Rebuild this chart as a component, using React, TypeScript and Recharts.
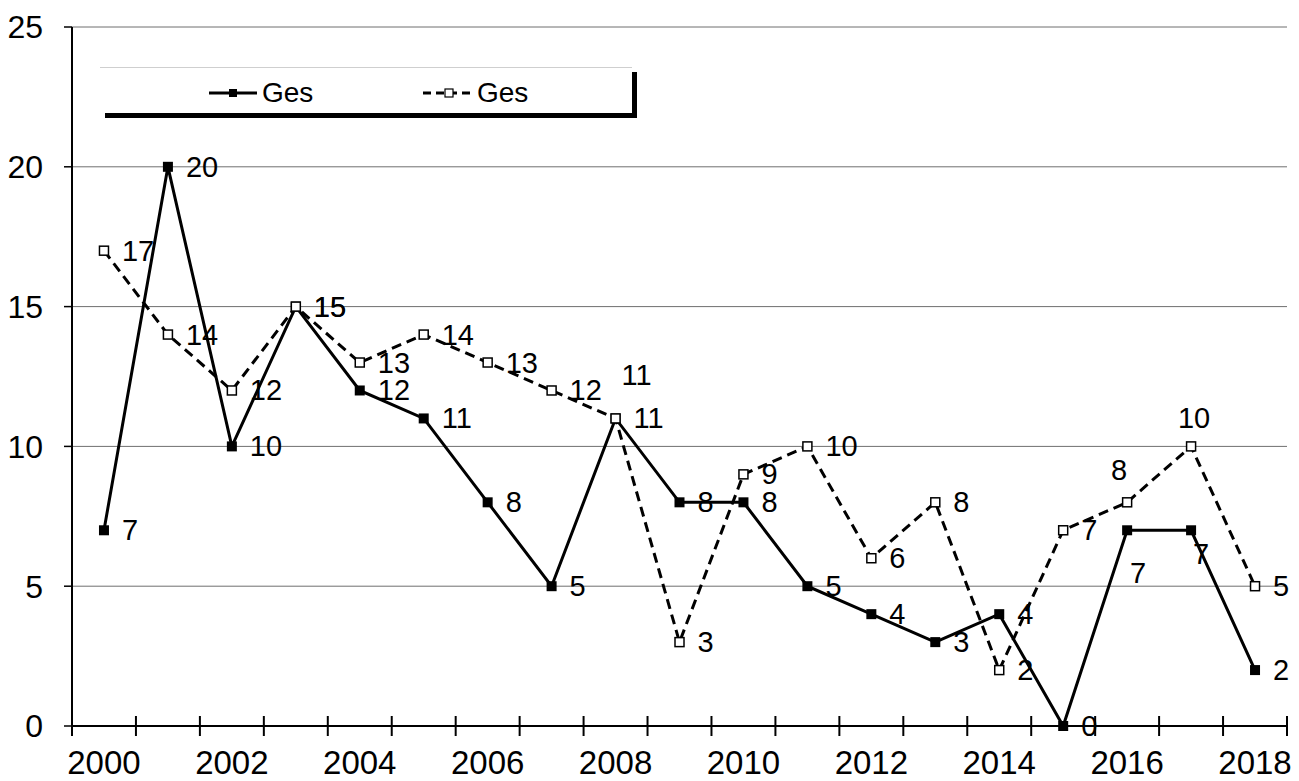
import { CartesianGrid, LabelList, Legend, Line, LineChart, XAxis, YAxis } from "recharts";

const years = [
  2000, 2001, 2002, 2003, 2004, 2005, 2006, 2007, 2008, 2009, 2010, 2011, 2012, 2013, 2014, 2015,
  2016, 2017, 2018
];
const gesSolid = [7, 20, 10, 15, 12, 11, 8, 5, 11, 8, 8, 5, 4, 3, 4, 0, 7, 7, 2];
const gesDashed = [17, 14, 12, 15, 13, 14, 13, 12, 11, 3, 9, 10, 6, 8, 2, 7, 8, 10, 5];
const yTicks = [0, 5, 10, 15, 20, 25];

const data = years.map((year, i) => ({ year, solid: gesSolid[i], dashed: gesDashed[i] }));

const W = 1299;
const H = 781;
const M = { top: 27, right: 12, left: 0, bottom: 0 };
const Y_AXIS_W = 72;
const STEP = (W - M.right - Y_AXIS_W) / years.length;
const FONT = "'Liberation Sans', Arial, sans-serif";

// labels Excel moved by hand: [dx from point centre, dy]
const solidNudge: Record<number, [number, number]> = { 2016: [11, 43], 2017: [10, 24] };
const dashedNudge: Record<number, [number, number]> = { 2008: [21, -43], 2016: [-8, -32], 2017: [3, -28] };

function makeLabel(nudge: Record<number, [number, number]>) {
  return (props: any) => {
    const { x, y, value, index } = props;
    const year = years[index];
    const n = nudge[year];
    if (n) {
      return (
        <text x={x + n[0]} y={y + n[1]} textAnchor="middle" dominantBaseline="central" fontSize={29} fontFamily={FONT} fill="#000">
          {value}
        </text>
      );
    }
    return (
      <text x={x + 18} y={y} dominantBaseline="central" fontSize={29} fontFamily={FONT} fill="#000">
        {value}
      </text>
    );
  };
}

function squareDot(filled: boolean) {
  return (props: any) => {
    const { cx, cy, index } = props;
    const s = filled ? 10 : 9;
    return (
      <rect
        key={index}
        x={cx - s / 2}
        y={cy - s / 2}
        width={s}
        height={s}
        fill={filled ? "#000" : "#fff"}
        stroke="#000"
        strokeWidth={filled ? 0 : 1.5}
      />
    );
  };
}

function YearTick(props: any) {
  const { x, y, payload } = props;
  const half = STEP / 2;
  const last = payload.value === years[years.length - 1];
  return (
    <g>
      <line x1={x - half} x2={x - half} y1={y - 10} y2={y + 10} stroke="#000" strokeWidth={2} />
      {last && <line x1={x + half} x2={x + half} y1={y - 10} y2={y + 10} stroke="#000" strokeWidth={2} />}
      {payload.value % 2 === 0 && (
        <text x={x} y={y + 48} textAnchor="middle" fontSize={33} fontFamily={FONT} fill="#000">
          {payload.value}
        </text>
      )}
    </g>
  );
}

function LegendBox() {
  const item = (left: number, dashed: boolean, iconW: number) => (
    <div style={{ position: "absolute", left, top: 0, height: 46, display: "flex", alignItems: "center", paddingTop: 2 }}>
      <svg width={iconW} height={20}>
        <line x1={0} x2={iconW} y1={10} y2={10} stroke="#000" strokeWidth={3} strokeDasharray={dashed ? "8 5" : undefined} />
        <rect x={iconW / 2 - 4} y={6} width={8} height={8} fill={dashed ? "#fff" : "#000"} stroke="#000" strokeWidth={dashed ? 1.2 : 0} />
      </svg>
      <span style={{ fontSize: 28, fontFamily: FONT, color: "#000", marginLeft: dashed ? 2 : 5 }}>Ges</span>
    </div>
  );
  return (
    <div
      style={{
        position: "relative",
        width: 532,
        height: 46,
        background: "#fff",
        borderTop: "1px solid #cfcfcf",
        boxShadow: "5px 5px 0 #000",
        boxSizing: "border-box"
      }}
    >
      {item(109, false, 48)}
      {item(323, true, 52)}
    </div>
  );
}

export default function App() {
  return (
    <div style={{ position: "absolute", left: 0, top: 0, background: "#fff" }}>
      <LineChart width={W} height={H} data={data} margin={M}>
        <CartesianGrid vertical={false} stroke="#6f6f6f" strokeWidth={1} />
        <XAxis
          dataKey="year"
          type="number"
          domain={[1999.5, 2018.5]}
          ticks={years}
          interval={0}
          tickLine={false}
          tickSize={0}
          tickMargin={0}
          height={55}
          axisLine={{ stroke: "#000", strokeWidth: 2 }}
          tick={<YearTick />}
        />
        <YAxis
          type="number"
          domain={[0, 25]}
          ticks={yTicks}
          width={Y_AXIS_W}
          tickSize={8}
          tickMargin={21}
          axisLine={{ stroke: "#000", strokeWidth: 2 }}
          tickLine={{ stroke: "#000", strokeWidth: 1.5 }}
          tick={{ fill: "#000", fontSize: 32, fontFamily: FONT }}
        />
        <Legend
          layout="horizontal"
          verticalAlign="middle"
          align="center"
          content={() => <LegendBox />}
          wrapperStyle={{ position: "absolute", left: 100, top: 67, width: 532, height: 46 }}
        />
        <Line
          dataKey="solid"
          name="Ges"
          type="linear"
          stroke="#000"
          strokeWidth={3}
          dot={squareDot(true)}
          activeDot={false}
          isAnimationActive={false}
        >
          <LabelList dataKey="solid" content={makeLabel(solidNudge)} />
        </Line>
        <Line
          dataKey="dashed"
          name="Ges"
          type="linear"
          stroke="#000"
          strokeWidth={3}
          strokeDasharray="10 6"
          dot={squareDot(false)}
          activeDot={false}
          isAnimationActive={false}
        >
          <LabelList dataKey="dashed" content={makeLabel(dashedNudge)} />
        </Line>
      </LineChart>
    </div>
  );
}
